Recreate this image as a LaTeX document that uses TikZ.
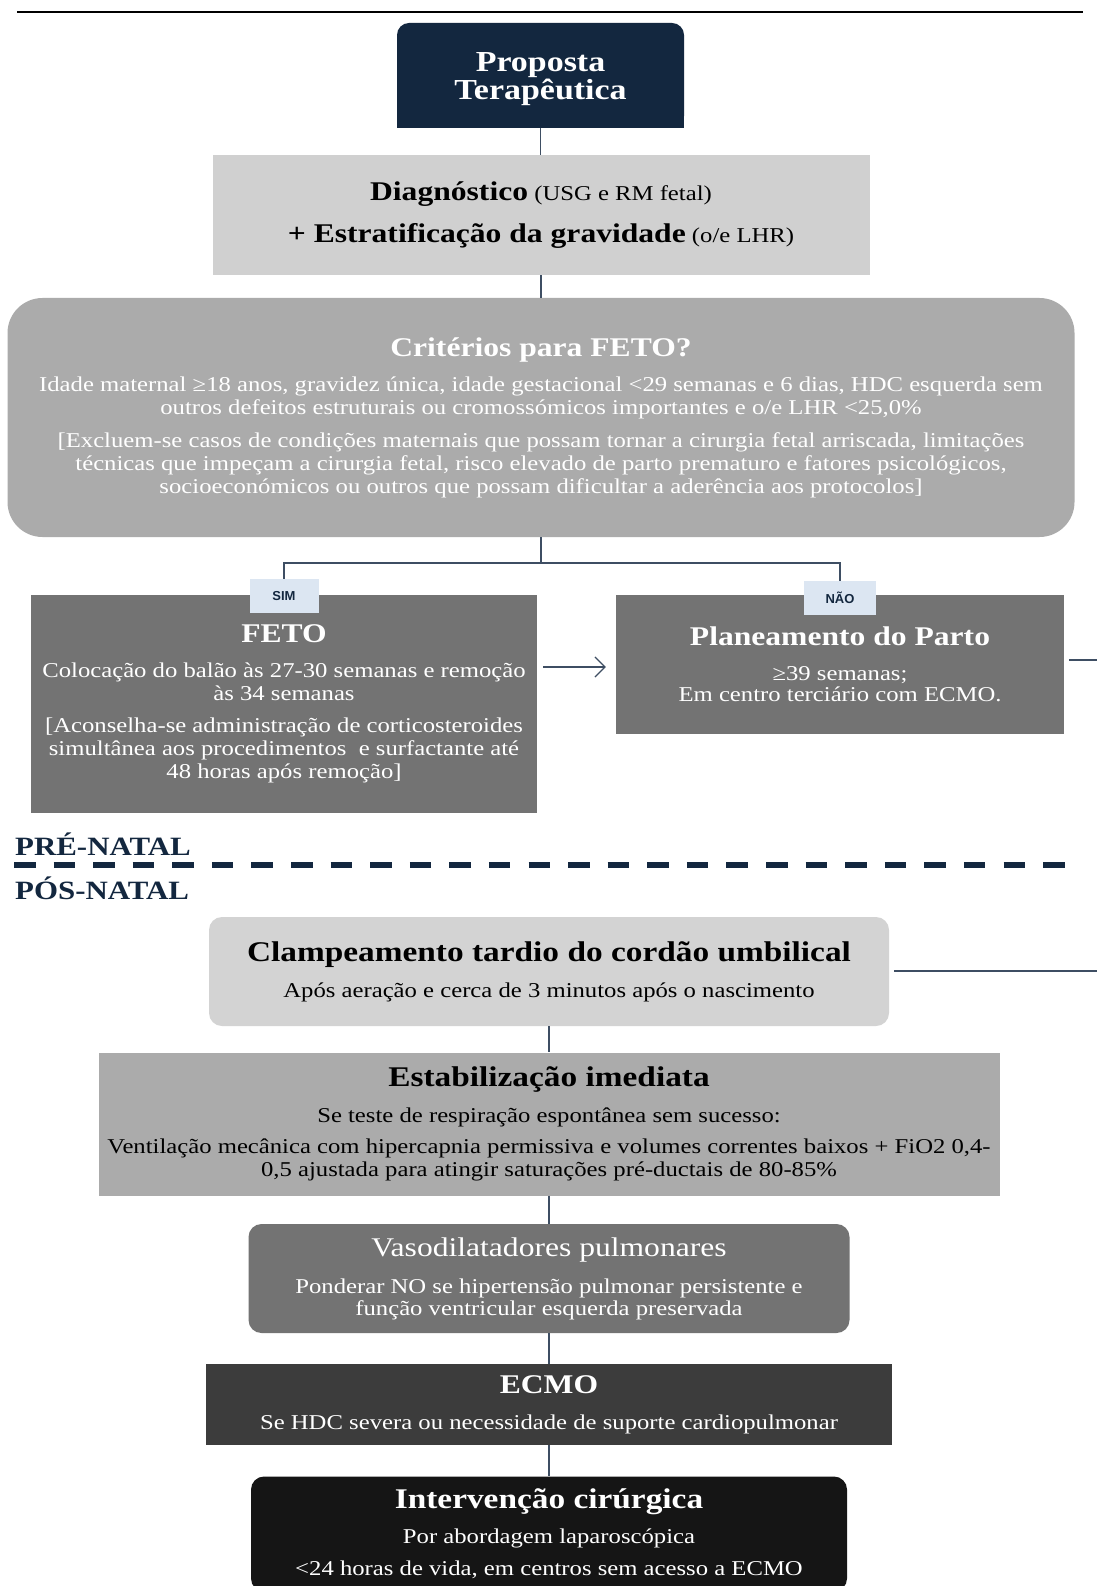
\documentclass[tikz,border=0pt]{standalone}
\usepackage{fontspec}
\setmainfont{Liberation Serif}[FakeStretch=1.17]
\newfontfamily\labfont{Liberation Sans}
\usetikzlibrary{arrows.meta,calc}
\definecolor{navy}{HTML}{13273F}
\definecolor{connc}{HTML}{3E4E63}
\definecolor{gA}{HTML}{D0D0D0}
\definecolor{gAA}{HTML}{D3D3D3}
\definecolor{gB}{HTML}{ABABAB}
\definecolor{gC}{HTML}{737373}
\definecolor{gD}{HTML}{3C3C3C}
\definecolor{gE}{HTML}{151515}
\definecolor{labc}{HTML}{DCE6F2}
\newcommand\mytitle[1]{{\fontsize{27}{23}\selectfont\bfseries #1}}
\newcommand\mybigtitle[1]{{\fontsize{28.5}{23}\selectfont\bfseries #1}}
\tikzset{
  txt/.style={align=center, inner sep=0pt, font=\fontsize{21.1}{23}\selectfont},
  conn/.style={draw=connc, line width=1.2pt},
  lab/.style={fill=labc, inner sep=0pt, minimum width=69, minimum height=34,
    text=navy, font=\labfont\fontsize{13}{14}\selectfont\bfseries},
  phase/.style={anchor=base west, inner sep=0pt, text=navy,
    font=\fontsize{26.4}{28}\selectfont\bfseries}
}
\begin{document}
\begin{tikzpicture}[x=1pt,y=-1pt]
\useasboundingbox (0,0) rectangle (1097,1586);
\fill[white] (0,0) rectangle (1097,1586);
\draw[line width=1.3pt] (17,12) -- (1083,12);

% Proposta
\fill[navy, rounded corners=12pt] (397,23) rectangle (684,128);
\fill[navy] (397,70) rectangle (684,128);
\node[txt, text=white, minimum width=287, minimum height=105,
  font=\fontsize{29}{28}\selectfont\bfseries] (prop) at (540.5,79) {Proposta\\Terapêutica};

% Diagnostico
\node[txt, fill=gA, minimum width=657, minimum height=120] (diag) at (541,215)
 {\mytitle{Diagnóstico} (USG e RM fetal)\\[16pt]\mytitle{+ Estratificação da gravidade} (o/e LHR)};

% Criterios
\node[txt, fill=gB, rounded corners=35pt, minimum width=1067, minimum height=239, text=white] (crit) at (541,417.5)
 {\mytitle{Critérios para FETO?}\\[12pt]
  Idade maternal ≥18 anos, gravidez única, idade gestacional <29 semanas e 6 dias, HDC esquerda sem\\
  outros defeitos estruturais ou cromossómicos importantes e o/e LHR <25,0\%\\[10pt]
  [Excluem-se casos de condições maternais que possam tornar a cirurgia fetal arriscada, limitações\\
  técnicas que impeçam a cirurgia fetal, risco elevado de parto prematuro e fatores psicológicos,\\
  socioeconómicos ou outros que possam dificultar a aderência aos protocolos]};

% FETO
\node[txt, fill=gC, minimum width=506, minimum height=218, text=white] (feto) at (284,704)
 {\mytitle{FETO}\\[12pt]
  Colocação do balão às 27-30 semanas e remoção\\
  às 34 semanas\\[9pt]
  [Aconselha-se administração de corticosteroides\\
  simultânea aos procedimentos \ e surfactante até\\
  48 horas após remoção]};

% Planeamento
\node[txt, fill=gC, minimum width=448, minimum height=139, text=white] (plan) at (840,664.5)
 {\mytitle{Planeamento do Parto}\\[12pt]≥39 semanas;\\[-2pt]Em centro terciário com ECMO.};

% labels
\node[lab] (sim) at (284,596) {SIM};
\node[lab, minimum width=72] (nao) at (840,598) {NÃO};

% connectors top
\draw[conn] (prop.south |- 0,128) -- (prop.south |- diag.north);
\draw[conn] (diag.south) -- (diag.south |- crit.north);
\coordinate (br) at (541,563);
\draw[conn] (crit.south) -- (br) -| (sim.north);
\draw[conn] (br) -| (nao.north);
\draw[conn, -{Straight Barb[length=10pt,width=20pt]}] ($(feto.east |- plan.west)+(6,2.5)$) -- ($(plan.west)+(-10,2.5)$);
\coordinate (planR) at (1097,660);
\draw[conn] ($(plan.east |- planR)+(5,0)$) -- (planR);

% phase separator
\node[phase] (pre) at (15,855) {PRÉ-NATAL};
\draw[navy, line width=6pt, dash pattern=on 21.5pt off 18.08pt] (14,865) -- (1066,865);
\node[phase] (pos) at (15,899) {PÓS-NATAL};

% Clampeamento
\node[txt, fill=gAA, rounded corners=13pt, minimum width=680, minimum height=109] (clamp) at (549,971.5)
 {\mybigtitle{Clampeamento tardio do cordão umbilical}\\[13pt]Após aeração e cerca de 3 minutos após o nascimento};
\coordinate (clampR) at (1097,971);
\draw[conn] ($(clamp.east |- clampR)+(5,0)$) -- (clampR);

% Estabilizacao
\node[txt, fill=gB, minimum width=901, minimum height=143] (estab) at (549,1124)
 {\mybigtitle{Estabilização imediata}\\[13pt]
  Se teste de respiração espontânea sem sucesso:\\[8pt]
  Ventilação mecânica com hipercapnia permissiva e volumes correntes baixos + FiO2 0,4-\\
  0,5 ajustada para atingir saturações pré-ductais de 80-85\%};

% Vasodilatadores
\node[txt, fill=gC, rounded corners=13pt, minimum width=601, minimum height=109, text=white] (vaso) at (549,1278.5)
 {{\fontsize{27}{23}\selectfont Vasodilatadores pulmonares}\\[14pt]
  Ponderar NO se hipertensão pulmonar persistente e\\[-1pt]
  função ventricular esquerda preservada};

% ECMO
\node[txt, fill=gD, minimum width=686, minimum height=81, text=white] (ecmo) at (549,1404.5)
 {\mytitle{ECMO}\\[13pt]Se HDC severa ou necessidade de suporte cardiopulmonar};

% Intervencao
\node[txt, fill=gE, rounded corners=13pt, minimum width=596, minimum height=115, text=white] (interv) at (549,1534)
 {\mybigtitle{Intervenção cirúrgica}\\[12pt]
  Por abordagem laparoscópica\\[9pt]
  <24 horas de vida, em centros sem acesso a ECMO};

% connectors bottom
\draw[conn] (clamp.south) -- (clamp.south |- estab.north);
\draw[conn] (estab.south) -- (estab.south |- vaso.north);
\draw[conn] (vaso.south) -- (vaso.south |- ecmo.north);
\draw[conn] (ecmo.south) -- (ecmo.south |- interv.north);
\end{tikzpicture}
\end{document}
